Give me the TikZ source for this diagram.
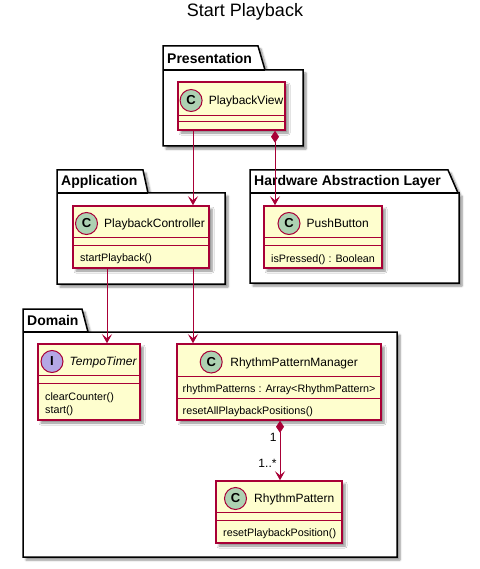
\documentclass[tikz,border=0pt]{standalone}
\usepackage{fontspec}
\setmainfont{Liberation Sans}
\usetikzlibrary{positioning}
\usetikzlibrary{arrows.meta}
\usetikzlibrary{shadows.blur}
\definecolor{umlred}{HTML}{A80036}
\definecolor{umlfill}{HTML}{FEFECE}
\definecolor{cfill}{HTML}{ADD1B2}
\definecolor{ifill}{HTML}{B4A7E5}
\tikzset{boxshadow/.style={blur shadow={shadow xshift=3pt, shadow yshift=-3pt, shadow blur radius=2pt, shadow blur steps=6, shadow opacity=45}},
	pkg/.style={draw=black, line width=1.5pt, fill=white, boxshadow},
	pkgline/.style={draw=black, line width=1.5pt},
	pkgname/.style={font=\fontsize{14}{16}\selectfont\bfseries, anchor=west, inner sep=0pt},
	classbox/.style={draw=umlred, line width=1.5pt, fill=umlfill, boxshadow, inner sep=0pt},
	divider/.style={draw=umlred, line width=1pt},
	%class icon, C for a class and I for an interface
	cicon/.style={circle, draw=umlred, line width=1pt, fill=#1, minimum size=22pt, inner sep=0pt, font=\fontsize{13}{13}\selectfont\bfseries},
	cicon/.default={cfill},
	cname/.style={font=\fontsize{12}{14}\selectfont, inner sep=0pt, text height=8.6pt, text depth=0pt},
	member/.style={font=\fontsize{10.75}{13}\selectfont, anchor=west, inner sep=0pt, text height=7.7pt, text depth=0pt},
	mult/.style={font=\fontsize{12}{14}\selectfont, inner sep=0pt},
	assoc/.style={draw=umlred, line width=1pt, -{Stealth[length=9pt, width=10pt, inset=4pt]}},
	comp/.style={draw=umlred, line width=1pt, {Diamond[length=12pt, width=8pt]}-{Stealth[length=9pt, width=10pt, inset=4pt]}}}
\begin{document}
\begin{tikzpicture}[x=1pt, y=-1pt]
	\useasboundingbox (0,0) rectangle (479,569);
%	\draw[step=50,help lines,black!20] (0,0) grid (479,569);
	\node[font=\fontsize{18}{20}\selectfont] (title) at (245,12) {Start Playback};

	% packages
	\draw[pkg] (163,70) -- (163,46) -- (258,46) -- (265,70) -- (303,70) -- (303,146) -- (163,146) -- cycle;
	\draw[pkgline] (163,70) -- (265,70);
	\node[pkgname] (presentation) at (167,58) {Presentation};

	\draw[pkg] (57,193) -- (57,170) -- (143,170) -- (148,193) -- (225,193) -- (225,284) -- (57,284) -- cycle;
	\draw[pkgline] (57,193) -- (148,193);
	\node[pkgname] (application) at (61,181.5) {Application};

	\draw[pkg] (250,193) -- (250,170) -- (448,170) -- (458,193) -- (459,193) -- (459,283) -- (250,283) -- cycle;
	\draw[pkgline] (250,193) -- (458,193);
	\node[pkgname] (hal) at (254,181.5) {Hardware Abstraction Layer};

	\draw[pkg] (23,332) -- (23,309) -- (82,309) -- (88,332) -- (397,332) -- (397,557) -- (23,557) -- cycle;
	\draw[pkgline] (23,332) -- (88,332);
	\node[pkgname] (domain) at (27,320.5) {Domain};

	% classes
	\node[classbox, minimum width=107pt, minimum height=48pt] (view) at (231.5,106) {};
	\draw[divider] ([yshift=-34pt]view.north west) -- ([yshift=-34pt]view.north east);
	\draw[divider] ([yshift=-40pt]view.north west) -- ([yshift=-40pt]view.north east);
	\node[cicon] (viewC) at (191.1,100.5) {C};
	\node[cname, right=6pt of viewC] (viewname) {PlaybackView};

	\node[classbox, minimum width=136pt, minimum height=62pt] (ctrl) at (141,237) {};
	\draw[divider] ([yshift=-32pt]ctrl.north west) -- ([yshift=-32pt]ctrl.north east);
	\draw[divider] ([yshift=-40pt]ctrl.north west) -- ([yshift=-40pt]ctrl.north east);
	\node[cicon] (ctrlC) at (86.5,223.5) {C};
	\node[cname, right=6pt of ctrlC] (ctrlname) {PlaybackController};
	\node[member] (ctrlm1) at (80,257.7) {startPlayback()};

	\node[classbox, minimum width=118pt, minimum height=62pt] (button) at (323,237) {};
	\draw[divider] ([yshift=-32pt]button.north west) -- ([yshift=-32pt]button.north east);
	\draw[divider] ([yshift=-40pt]button.north west) -- ([yshift=-40pt]button.north east);
	\node[cicon] (buttonC) at (289,223.5) {C};
	\node[cname, right=6pt of buttonC] (buttonname) {PushButton};
	\node[member] (buttonm1) at (271,258.3) {isPressed() : Boolean};

	\node[classbox, minimum width=102pt, minimum height=76pt] (timer) at (89,382) {};
	\draw[divider] ([yshift=-32pt]timer.north west) -- ([yshift=-32pt]timer.north east);
	\draw[divider] ([yshift=-40pt]timer.north west) -- ([yshift=-40pt]timer.north east);
	\node[cicon=ifill] (timerI) at (52,361.5) {I};
	\node[cname, right=6pt of timerI, font=\fontsize{12}{14}\selectfont\itshape] (timername) {TempoTimer};
	\node[member] (timerm1) at (45,396.7) {clearCounter()};
	\node[member] (timerm2) at (45,409.7) {start()};

	\node[classbox, minimum width=204pt, minimum height=76pt] (manager) at (279,382) {};
	\draw[divider] ([yshift=-33pt]manager.north west) -- ([yshift=-33pt]manager.north east);
	\draw[divider] ([yshift=-55pt]manager.north west) -- ([yshift=-55pt]manager.north east);
	\node[cicon] (managerC) at (211.2,362) {C};
	\node[cname, right=7.5pt of managerC] (managername) {RhythmPatternManager};
	\node[member] (managera1) at (182.5,388.7) {rhythmPatterns : Array<RhythmPattern>};
	\node[member] (managerm1) at (182.5,410.3) {resetAllPlaybackPositions()};

	\node[classbox, minimum width=126pt, minimum height=62pt] (pattern) at (279,512) {};
	\draw[divider] ([yshift=-32pt]pattern.north west) -- ([yshift=-32pt]pattern.north east);
	\draw[divider] ([yshift=-40pt]pattern.north west) -- ([yshift=-40pt]pattern.north east);
	\node[cicon] (patternC) at (235.5,498.5) {C};
	\node[cname, right=7pt of patternC] (patternname) {RhythmPattern};
	\node[member] (patternm1) at (223,532.2) {resetPlaybackPosition()};

	% connectors
	\draw[assoc] ([xshift=-38.5pt]view.south) -- ([xshift=-38.5pt]view.south |- ctrl.north);
	\draw[comp] ([xshift=43.5pt]view.south) -- ([xshift=43.5pt]view.south |- button.north);
	\draw[assoc] ([xshift=-34pt]ctrl.south) -- ([xshift=-34pt]ctrl.south |- timer.north);
	\draw[assoc] ([xshift=52pt]ctrl.south) -- ([xshift=52pt]ctrl.south |- manager.north);
	\draw[comp] ([xshift=1pt]manager.south) -- ([xshift=1pt]manager.south |- pattern.north)
		node[mult, pos=0.28, left=3pt] (one) {1}
		node[mult, pos=0.72, left=3pt] (many) {1..*};
\end{tikzpicture}
\end{document}
